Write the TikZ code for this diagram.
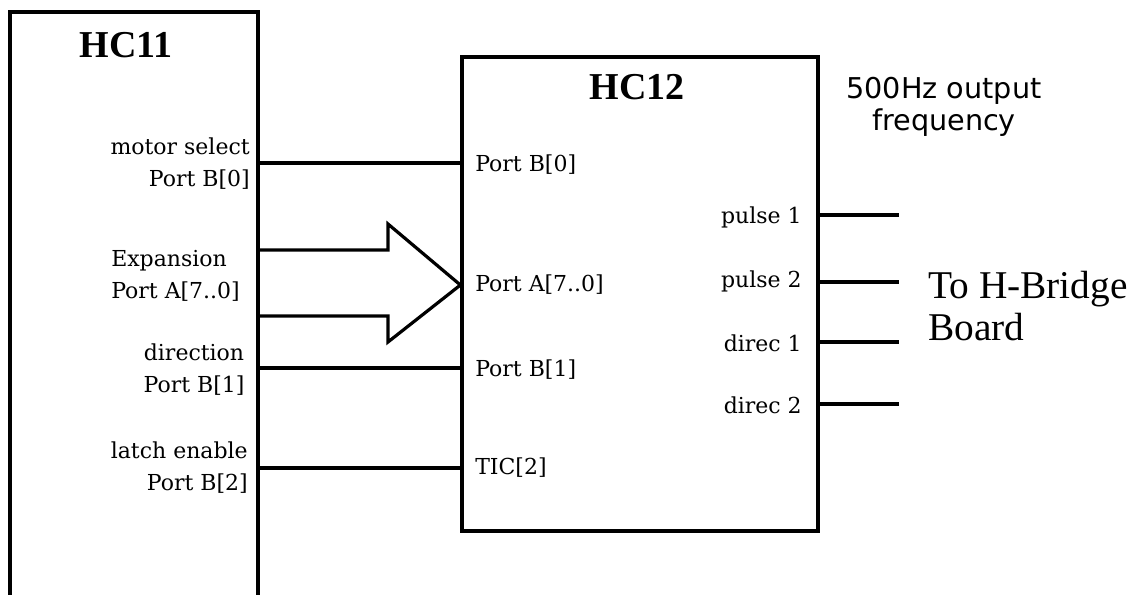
\documentclass[tikz,border=0pt]{standalone}
\usepackage{fontspec}
\setmainfont{Liberation Serif}
\newfontfamily\lblfont{DejaVu Serif}
\newfontfamily\sansf{DejaVu Sans}
\begin{document}
\begin{tikzpicture}[x=0.75pt,y=-0.75pt,
  box/.style={draw, line width=2.4pt, rectangle, inner sep=0pt},
  wire/.style={line width=2.4pt},
  lbl/.style={font=\lblfont\fontsize{16.5}{24}\selectfont, inner sep=0pt},
  title/.style={font=\bfseries\fontsize{28.5}{32}\selectfont, inner sep=0pt},
  big/.style={font=\fontsize{29.5}{32}\selectfont, inner sep=0pt, align=left},
  note/.style={font=\sansf\fontsize{21.5}{23.5}\selectfont, inner sep=0pt, align=center}]
\useasboundingbox (0,0) rectangle (1132,594);
\fill[white] (0,0) rectangle (1132,594);
\clip (0,0) rectangle (1132,594);

% boxes
\node[box, minimum width=186pt, minimum height=456pt] (hc11) at (134,316) {};
\node[box, minimum width=267pt, minimum height=355.5pt] (hc12) at (640,294) {};
\node[title] (t11) at (126,45) {HC11};
\node[title] (t12) at (637,87) {HC12};

% row coordinates
\coordinate (y1) at (0,163);
\coordinate (ay) at (0,285);
\coordinate (au) at (0,250);
\coordinate (al) at (0,316);
\coordinate (y2) at (0,368);
\coordinate (y3) at (0,468);
\coordinate (o1) at (899,215);
\coordinate (o2) at (899,282);
\coordinate (o3) at (899,342);
\coordinate (o4) at (899,404);

% input wires
\draw[wire] (hc11.east |- y1) -- (hc12.west |- y1);
\draw[wire] (hc11.east |- y2) -- (hc12.west |- y2);
\draw[wire] (hc11.east |- y3) -- (hc12.west |- y3);
% bus arrow
\draw[wire, line join=miter] (hc11.east |- au) -- (388,250) -- (388,224) -- (hc12.west |- ay)
  -- (388,342) -- (388,316) -- (hc11.east |- al);

% output wires
\draw[wire] (hc12.east |- o1) -- (o1);
\draw[wire] (hc12.east |- o2) -- (o2);
\draw[wire] (hc12.east |- o3) -- (o3);
\draw[wire] (hc12.east |- o4) -- (o4);

% HC11 labels
\node[lbl, anchor=east, align=right] (l1) at (250,164) {motor select\\Port B[0]};
\node[lbl, anchor=west, align=left] (l2) at (111,276) {Expansion\\Port A[7..0]};
\node[lbl, align=center] (l3) at (194,370) {direction\\Port B[1]};
\node[lbl, anchor=east, align=right] (l4) at (248,468) {latch enable\\Port B[2]};

% HC12 inputs
\node[lbl, anchor=west] (i1) at (475,165) {Port B[0]};
\node[lbl, anchor=west] (i2) at (475,285) {Port A[7..0]};
\node[lbl, anchor=west] (i3) at (475,370) {Port B[1]};
\node[lbl, anchor=west] (i4) at (475,468) {TIC[2]};

% HC12 outputs
\node[lbl, anchor=east] (p1) at (802,217) {pulse 1};
\node[lbl, anchor=east] (p2) at (802,281) {pulse 2};
\node[lbl, anchor=east] (p3) at (802,343) {direc 1};
\node[lbl, anchor=east] (p4) at (802,405) {direc 2};

% other texts
\node[note] (freq) at (944,107) {500Hz output\\frequency};
\node[big, anchor=west] (hb) at (928,306) {To H-Bridge\\Board};
\end{tikzpicture}
\end{document}
